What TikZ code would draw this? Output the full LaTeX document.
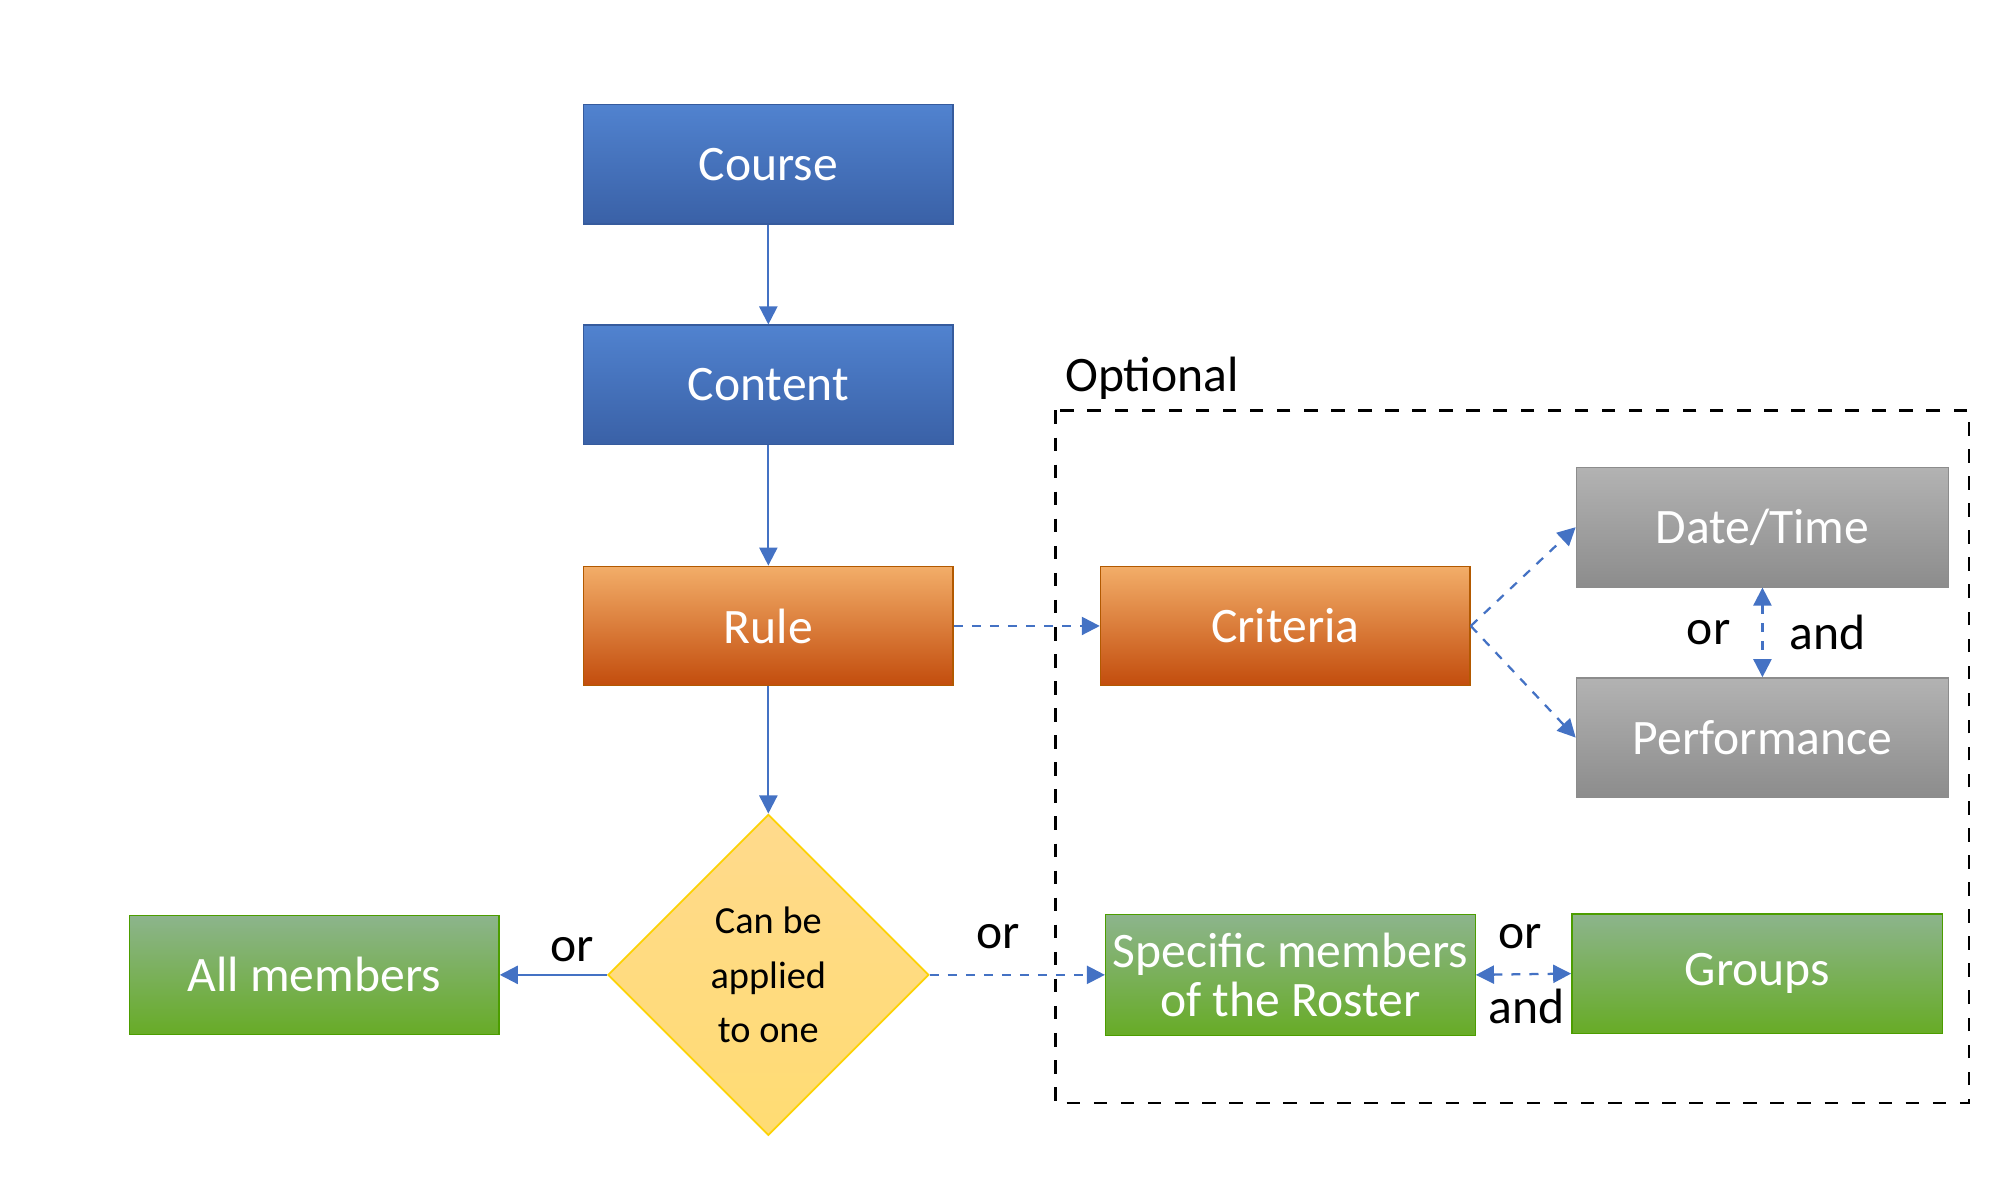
\documentclass[tikz,border=0pt]{standalone}
\usepackage{fontspec}
\setmainfont{Carlito}
\usetikzlibrary{shapes.geometric,arrows.meta}

\definecolor{lineblue}{HTML}{4472C4}

\tikzset{
    box/.style={rectangle, minimum width=2.88cm, minimum height=0.93cm,
        text=white, font=\fontsize{11}{13}\selectfont, align=center, inner sep=1pt},
    bluebox/.style={box, top color=blue!45!cyan!10!lineblue!90!white, bottom color=lineblue!85!black, draw=lineblue!80!black, line width=0.3pt},
    orangebox/.style={box, top color=orange!55!white!80!brown, bottom color=orange!70!red!75!black!95, draw=orange!70!black, line width=0.3pt},
    graybox/.style={box, top color=black!30, bottom color=black!45, draw=black!45, line width=0.3pt},
    greenbox/.style={box, top color=green!35!black!45!white, bottom color=green!45!black!70!yellow!85, draw=green!45!black!70!yellow, line width=0.3pt},
    flow/.style={draw=lineblue, line width=0.5pt, -{Triangle[length=4pt,width=4pt]}},
    optflow/.style={flow, dashed, dash pattern=on 2pt off 2pt},
    word/.style={font=\fontsize{11}{13}\selectfont}
}

\begin{document}
\begin{tikzpicture}[x=0.01cm, y=-0.01cm]

\useasboundingbox (0,0) rectangle (1567,918);

% Main chain.
\node[bluebox] (course) at (599,128) {Course};
\node[bluebox] (content) at (599,300) {Content};
\node[orangebox] (rule) at (599,488) {Rule};
\node[diamond, minimum width=2.5cm, minimum height=2.5cm, inner sep=0pt,
    top color=yellow!35!orange!45!white, bottom color=yellow!50!orange!55!white,
    draw=yellow!70!orange, align=center, font=\fontsize{8.5}{12}\selectfont]
    (apply) at (599,760) {Can be\\applied\\to one};
\node[greenbox] (all) at (245,760) {All members};

% Optional part.
\draw[dashed, line width=0.6pt] (823,320) rectangle (1535,860);
\node[word, anchor=west] (optional) at (818,295) {Optional};
\node[orangebox] (criteria) at (1002,488) {Criteria};
\node[graybox, minimum width=2.9cm] (datetime) at (1374,411) {Date/Time};
\node[graybox, minimum width=2.9cm] (perf) at (1374,575) {Performance};
\node[greenbox, minimum height=0.94cm] (specific) at (1006,760) {Specific members\\[-2pt]of the Roster};
\node[greenbox, minimum width=2.89cm] (groups) at (1370,759) {Groups};

% Connectors.
\draw[flow] (course) -- (content);
\draw[flow] (content) -- (rule);
\draw[flow] (rule) -- (apply);
\draw[flow] (apply) -- (all);
\draw[optflow] (rule) -- (criteria);
\draw[optflow] (criteria.east) -- (datetime.west);
\draw[optflow] (criteria.east) -- (perf.west);
\draw[optflow, {Triangle[length=4pt,width=4pt]}-{Triangle[length=4pt,width=4pt]}] (datetime) -- (perf);
\draw[optflow] (apply.east) -- (specific.west);
\draw[optflow, {Triangle[length=4pt,width=4pt]}-{Triangle[length=4pt,width=4pt]}] (specific.east) -- (groups.west);

% Labels.
\node[word] (or1) at (446,740) {or};
\node[word] (or2) at (778,730) {or};
\node[word] (or3) at (1332,493) {or};
\node[word] (and1) at (1425,493) {and};
\node[word] (or4) at (1185,730) {or};
\node[word] (and2) at (1190,785) {and};

\end{tikzpicture}
\end{document}
